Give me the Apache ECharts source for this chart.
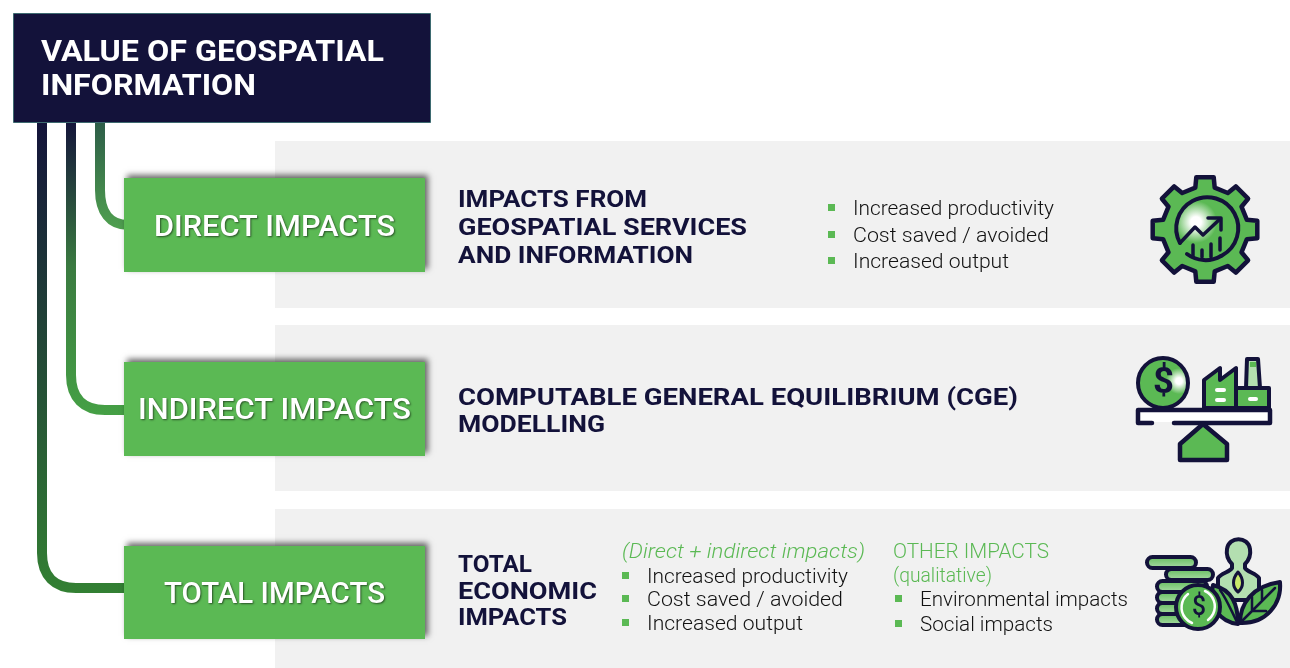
<!DOCTYPE html>
<html>
<head>
<meta charset="utf-8">
<title>Value of geospatial information</title>
<script src="https://cdn.jsdelivr.net/npm/echarts@6/dist/echarts.min.js"></script>
<style>
  html, body { margin: 0; padding: 0; background: #fff; }
  #main { width: 1290px; height: 668px; }
</style>
</head>
<body>
<div id="main"></div>
<script>
var titleLines = ['VALUE OF GEOSPATIAL', 'INFORMATION'];
var boxLabels = ['DIRECT IMPACTS', 'INDIRECT IMPACTS', 'TOTAL IMPACTS'];
var directHeading = ['IMPACTS FROM', 'GEOSPATIAL SERVICES', 'AND INFORMATION'];
var indirectHeading = ['COMPUTABLE GENERAL EQUILIBRIUM (CGE)', 'MODELLING'];
var totalHeading = ['TOTAL', 'ECONOMIC', 'IMPACTS'];
var impactList = ['Increased productivity', 'Cost saved / avoided', 'Increased output'];
var totalNote = '(Direct + indirect impacts)';
var otherHeading = ['OTHER IMPACTS', '(qualitative)'];
var otherList = ['Environmental impacts', 'Social impacts'];

var NAVY = '#13123a';
var GREEN = '#5bb954';
var PALE = '#b3dfb0';
var PANEL = '#f1f1f1';

var measureCtx = document.createElement('canvas').getContext('2d');

// text squeezed or stretched to the width it has in the picture
function label(str, x, y, width, font, color, extra) {
    measureCtx.font = font;
    var style = { text: str, font: font, fill: color, verticalAlign: 'middle', align: 'left' };
    if (extra) {
        Object.keys(extra).forEach(function (k) { style[k] = extra[k]; });
    }
    return {
        type: 'text', x: x, y: y + 3, originX: 0, originY: 0,
        scaleX: width / measureCtx.measureText(str).width,
        style: style
    };
}

function rect(x, y, w, h, fill, extra) {
    var style = { fill: fill };
    if (extra) {
        Object.keys(extra).forEach(function (k) { style[k] = extra[k]; });
    }
    return { type: 'rect', shape: { x: x, y: y, width: w, height: h }, style: style };
}

function path(d, fill, lineWidth, stroke) {
    return {
        type: 'path',
        shape: { pathData: d },
        style: {
            fill: fill || 'none',
            stroke: stroke === undefined ? NAVY : stroke,
            lineWidth: lineWidth === undefined ? 4 : lineWidth,
            lineJoin: 'round',
            lineCap: 'round'
        }
    };
}

function circle(cx, cy, r, fill, lineWidth) {
    return {
        type: 'circle',
        shape: { cx: cx, cy: cy, r: r },
        style: { fill: fill, stroke: NAVY, lineWidth: lineWidth === undefined ? 4 : lineWidth }
    };
}

function glow(x, y, r, outer) {
    return {
        type: 'radial', x: x, y: y, r: r, global: true,
        colorStops: [
            { offset: 0, color: '#ffffff' },
            { offset: 0.25, color: '#ffffff' },
            { offset: 1, color: outer || GREEN }
        ]
    };
}

function connector(d, y1, y2, stops) {
    return {
        type: 'path',
        shape: { pathData: d },
        style: {
            fill: 'none',
            lineWidth: 10,
            stroke: {
                type: 'linear', x: 0, y: y1, x2: 0, y2: y2, global: true,
                colorStops: stops.map(function (c, i) {
                    return { offset: i / (stops.length - 1), color: c };
                })
            }
        }
    };
}

function gearPath(cx, cy, rOut, rIn, teeth) {
    var d = '';
    var step = Math.PI * 2 / teeth;
    for (var i = 0; i < teeth; i++) {
        var a = -Math.PI / 2 + i * step;
        var pts = [[-0.29, rIn], [-0.21, rOut], [0.21, rOut], [0.29, rIn]];
        pts.forEach(function (p, j) {
            var ang = a + p[0] * step;
            var x = (cx + p[1] * Math.cos(ang)).toFixed(1);
            var y = (cy + p[1] * Math.sin(ang)).toFixed(1);
            d += (i === 0 && j === 0 ? 'M' : 'L') + x + ' ' + y + ' ';
        });
    }
    return d + 'Z';
}

function gearIcon() {
    return [
        path(gearPath(1205, 229.5, 53, 43, 8), GREEN, 4.5),
        circle(1205, 229.5, 31, glow(1196, 222, 21), 0),
        path('M1180 243 A31 31 0 1 1 1221 256', 'none', 4),
        path('M1187 254 A31 31 0 0 0 1221 256', 'none', 4),
        path('M1180 243 L1195 227 L1203 235 L1220 219', 'none', 3.5),
        path('M1208 218 L1221 218 L1221 230', 'none', 3.5),
        path('M1193 245 L1193 257', 'none', 3.5),
        path('M1202 250 L1202 257', 'none', 3.5),
        path('M1211 244 L1211 257', 'none', 3.5),
        path('M1220 238 L1220 250', 'none', 3.5)
    ];
}

function scaleIcon() {
    return [
        circle(1163, 383, 25, glow(1179, 381, 13)),
        label('$', 1153, 381, 21, '700 36px Roboto', NAVY),
        path('M1204 408 L1204 380 L1220 368 L1220 380 L1236 368 L1236 408 Z', GREEN),
        path('M1247 359 L1258 359 L1260 388 L1246 388 Z', PALE),
        rect(1250, 362, 6, 5, GREEN),
        path('M1236 388 L1269 388 L1269 408 L1236 408 Z', GREEN),
        path('M1217 390 L1224 390', 'none', 4, '#ffffff'),
        path('M1217 400 L1224 400', 'none', 4, '#ffffff'),
        path('M1250 399 L1256 399', 'none', 4, '#ffffff'),
        rect(1138, 410, 131, 12, '#ffffff'),
        path('M1152 423 L1138 423 L1138 410 L1270 410 L1270 423 L1174 423', 'none', 4.5),
        path('M1203 424 L1227 444 L1227 460 L1180 460 L1180 444 Z', GREEN, 4.5)
    ];
}

function moneyIcon() {
    var stack = [[1147, 557, 49], [1166, 569, 47], [1157, 581, 50], [1157, 592, 50], [1157, 603, 50], [1157, 614, 50]];
    var els = stack.map(function (s) {
        return {
            type: 'rect',
            shape: { x: s[0], y: s[1], width: s[2], height: 11, r: 5.5 },
            style: {
                fill: { type: 'linear', x: 0, y: 0, x2: 0, y2: 1, colorStops: [{ offset: 0, color: GREEN }, { offset: 1, color: PALE }] },
                stroke: NAVY, lineWidth: 4
            }
        };
    });
    els.push(path('M1218 578 C1221 573 1230 572 1232 568 L1232 564 C1228 560 1226 555 1227 549 C1229 536 1248 536 1250 549 C1251 555 1249 560 1245 564 L1245 568 C1247 572 1256 573 1259 578 L1259 600 L1218 600 Z', PALE, 4));
    els.push(path('M1238 572 C1232 579 1232 587 1238 592 C1244 587 1244 579 1238 572 Z', '#c8e86a', 3));
    els.push(path('M1240 623 C1240 604 1252 586 1280 582 C1282 604 1266 624 1240 623 Z', GREEN, 4));
    els.push(path('M1240 623 L1275 588 M1252 610 L1252 597 M1262 600 L1262 590 M1252 611 L1266 611', 'none', 2.5));
    els.push(path('M1238 624 C1238 604 1232 590 1213 585 C1208 606 1220 622 1238 624 Z', GREEN, 4));
    els.push(path('M1238 624 C1230 608 1226 598 1220 590', 'none', 2.5));
    els.push(circle(1198, 607, 22, GREEN, 4));
    els.push(path('M1188 594 A17 17 0 0 0 1192 623', 'none', 2.5, '#ffffff'));
    els.push(path('M1205 591 A17 17 0 0 1 1208 620', 'none', 2.5, '#ffffff'));
    els.push(label('$', 1192, 605, 14, '500 28px Roboto', NAVY));
    return els;
}

function list(items, textX, bulletX, rows, width) {
    var els = [];
    items.forEach(function (item, i) {
        els.push(rect(bulletX, rows[i] - 3, 7, 7, GREEN));
        els.push(label(item, textX, rows[i], width[i], '300 21px Roboto', '#111111'));
    });
    return els;
}

var BODY = '300 21px Roboto';
var HEAD = '700 24px Roboto';
var boxText = { textShadowColor: 'rgba(0,0,0,0.55)', textShadowBlur: 2, textShadowOffsetX: 1, textShadowOffsetY: 1 };
var boxShadow = { shadowColor: 'rgba(0,0,0,0.6)', shadowBlur: 6, shadowOffsetX: 3, shadowOffsetY: -3 };

var elements = [
    rect(0, 0, 1290, 668, '#ffffff'),
    rect(275, 141, 1015, 167, PANEL),
    rect(275, 325, 1015, 166, PANEL),
    rect(275, 509, 1015, 159, PANEL),

    connector('M100 118 L100 190 C100 212 110 225 128 225', 118, 228, ['#2c5a48', '#4f9f4f']),
    connector('M71 118 L71 375 C71 398 84 410 105 410 L128 410', 118, 415, [NAVY, '#3a7a40', '#45a045']),
    connector('M42 118 L42 553 C42 576 55 588 76 588 L128 588', 118, 593, [NAVY, '#338033']),

    rect(13.5, 13.5, 417, 109, NAVY, { stroke: '#3d6a70', lineWidth: 1 }),

    rect(124, 178, 301, 94, GREEN, boxShadow),
    rect(124, 362, 301, 94, GREEN, boxShadow),
    rect(124, 546, 301, 93, GREEN, boxShadow)
];

[[41, 51, 343], [41, 85, 215]].forEach(function (r, i) {
    elements.push(label(titleLines[i], r[0], r[1], r[2], '700 29px Roboto', '#ffffff'));
});

[[154, 226, 241], [138, 409, 273], [164, 593, 221]].forEach(function (r, i) {
    elements.push(label(boxLabels[i], r[0], r[1], r[2], '500 29px Roboto', '#ffffff', boxText));
});

[[198, 189], [226, 289], [254, 235]].forEach(function (r, i) {
    elements.push(label(directHeading[i], 458, r[0], r[1], HEAD, NAVY));
});
[[396, 560], [423, 147]].forEach(function (r, i) {
    elements.push(label(indirectHeading[i], 458, r[0], r[1], HEAD, NAVY));
});
[[563, 74], [590, 139], [616, 109]].forEach(function (r, i) {
    elements.push(label(totalHeading[i], 458, r[0], r[1], HEAD, NAVY));
});

elements = elements.concat(list(impactList, 853, 828, [207, 234, 260], [201, 196, 156]));
elements = elements.concat(list(impactList, 647, 622, [575, 598, 622], [201, 196, 156]));
elements = elements.concat(list(otherList, 920, 895, [598, 623], [208, 133]));

elements.push(label(totalNote, 622, 550, 243, 'italic 300 21px Roboto', GREEN));
elements.push(label(otherHeading[0], 893, 550, 156, BODY, GREEN));
elements.push(label(otherHeading[1], 893, 574, 99, BODY, GREEN));

elements = elements.concat(gearIcon(), scaleIcon(), moneyIcon());

var chart = echarts.init(document.getElementById('main'));
chart.setOption({
    animation: false,
    series: [{
        type: 'custom',
        coordinateSystem: 'none',
        silent: true,
        clip: false,
        data: [0],
        renderItem: function () {
            return { type: 'group', children: elements };
        }
    }]
});
</script>
</body>
</html>
